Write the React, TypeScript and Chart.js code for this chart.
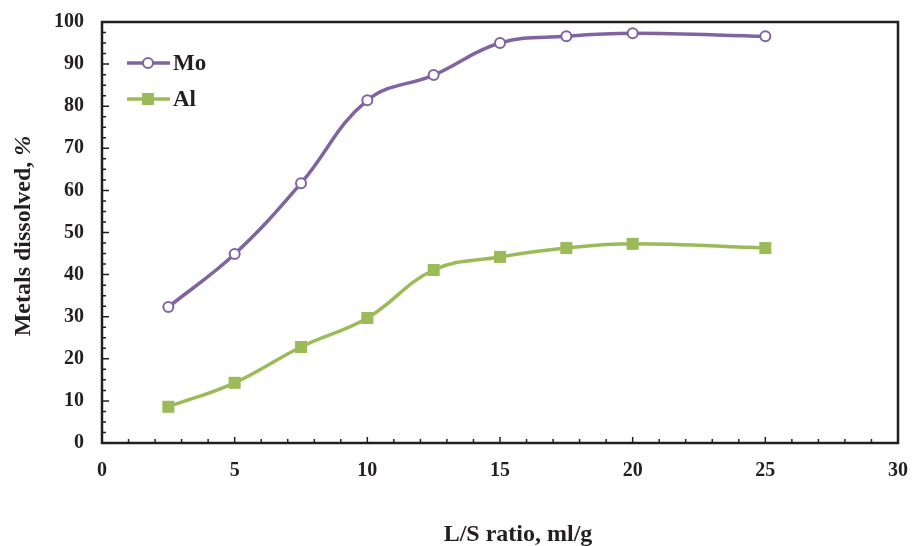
import React, { useEffect, useRef } from "react";
import { Chart, registerables } from "chart.js";

Chart.register(...registerables);

const lsRatio = [2.5, 5, 7.5, 10, 12.5, 15, 17.5, 20, 25];
const moValues = [32.3, 44.9, 61.7, 81.4, 87.4, 95.0, 96.6, 97.3, 96.6];
const alValues = [8.6, 14.3, 22.8, 29.7, 41.1, 44.2, 46.3, 47.3, 46.3];
const xTicks = [0, 5, 10, 15, 20, 25, 30];
const yTicks = [0, 10, 20, 30, 40, 50, 60, 70, 80, 90, 100];

const seriesNames = ["Mo", "Al"];
const MO_COLOR = "#8064A2";
const AL_COLOR = "#9BBB59";
const AXIS_COLOR = "#231F20";
const FONT = "'Liberation Serif', 'Times New Roman', serif";

const framePlugin = {
  id: "frameAndExtras",
  afterDraw(chart: any) {
    const { ctx, chartArea } = chart;
    const xs = chart.scales.x;
    const ys = chart.scales.y;
    ctx.save();
    // frame
    ctx.strokeStyle = AXIS_COLOR;
    ctx.lineWidth = 2.5;
    ctx.strokeRect(chartArea.left, chartArea.top, chartArea.right - chartArea.left, chartArea.bottom - chartArea.top);
    // ticks (inward)
    ctx.lineWidth = 1.5;
    ctx.beginPath();
    for (let v = 0; v <= 100; v += 2.5) {
      const y = ys.getPixelForValue(v);
      const major = Math.abs(v % 10) < 1e-6;
      ctx.moveTo(chartArea.left, y);
      ctx.lineTo(chartArea.left + (major ? 7 : 4), y);
    }
    for (let v = 0; v <= 30; v += 1) {
      const x = xs.getPixelForValue(v);
      const major = v % 5 === 0;
      ctx.moveTo(x, chartArea.bottom);
      ctx.lineTo(x, chartArea.bottom - (major ? 6 : 4));
    }
    ctx.stroke();

    // legend
    const items = [
      { name: seriesNames[0], color: MO_COLOR, y: 63, style: "circle" },
      { name: seriesNames[1], color: AL_COLOR, y: 99, style: "rect" },
    ];
    const lx0 = 127, lx1 = 170, lxm = 148;
    items.forEach((it) => {
      ctx.strokeStyle = it.color;
      ctx.lineWidth = 3.5;
      ctx.beginPath();
      ctx.moveTo(lx0, it.y);
      ctx.lineTo(lx1, it.y);
      ctx.stroke();
      if (it.style === "circle") {
        ctx.fillStyle = "#fff";
        ctx.lineWidth = 2;
        ctx.beginPath();
        ctx.arc(lxm, it.y, 5, 0, Math.PI * 2);
        ctx.fill();
        ctx.stroke();
      } else {
        ctx.fillStyle = it.color;
        ctx.fillRect(lxm - 6, it.y - 6, 12, 12);
      }
      ctx.fillStyle = AXIS_COLOR;
      ctx.font = `bold 23px ${FONT}`;
      ctx.textAlign = "left";
      ctx.textBaseline = "middle";
      ctx.fillText(it.name, 173, it.y + 1);
    });

    // axis titles
    ctx.fillStyle = AXIS_COLOR;
    ctx.textBaseline = "alphabetic";
    ctx.font = `bold 24px ${FONT}`;
    ctx.textAlign = "center";
    ctx.fillText("L/S ratio, ml/g", 518, 541);

    ctx.save();
    ctx.translate(30, 236);
    ctx.rotate(-Math.PI / 2);
    const part1 = "Metals dissolved, ";
    const part2 = "%";
    ctx.font = `bold 24px ${FONT}`;
    const w1 = ctx.measureText(part1).width;
    ctx.font = `italic bold 24px ${FONT}`;
    const w2 = ctx.measureText(part2).width;
    const start = -(w1 + w2) / 2;
    ctx.textAlign = "left";
    ctx.font = `bold 24px ${FONT}`;
    ctx.fillText(part1, start, 0);
    ctx.font = `italic bold 24px ${FONT}`;
    ctx.fillText(part2, start + w1, 0);
    ctx.restore();

    ctx.restore();
  },
};

const zeroPad = (scale: any) => {
  scale.paddingTop = 0;
  scale.paddingBottom = 0;
  scale.paddingLeft = 0;
  scale.paddingRight = 0;
};

export default function App() {
  const canvasRef = useRef<HTMLCanvasElement | null>(null);

  useEffect(() => {
    if (!canvasRef.current) return;
    const chart = new Chart(canvasRef.current, {
      type: "line",
      data: {
        datasets: [
          {
            label: seriesNames[0],
            data: lsRatio.map((x, i) => ({ x, y: moValues[i] })),
            borderColor: MO_COLOR,
            backgroundColor: "#ffffff",
            borderWidth: 3.5,
            tension: 0.4,
            pointStyle: "circle",
            pointRadius: 5,
            pointBorderWidth: 2,
            pointBorderColor: MO_COLOR,
            pointBackgroundColor: "#ffffff",
          },
          {
            label: seriesNames[1],
            data: lsRatio.map((x, i) => ({ x, y: alValues[i] })),
            borderColor: AL_COLOR,
            backgroundColor: AL_COLOR,
            borderWidth: 3.5,
            tension: 0.4,
            pointStyle: "rect",
            pointRadius: 8.5,
            pointBorderWidth: 0,
            pointBackgroundColor: AL_COLOR,
          },
        ],
      },
      options: {
        responsive: false,
        animation: false,
        layout: { padding: { top: 22, right: 14, left: 0, bottom: 0 } },
        plugins: { legend: { display: false }, tooltip: { enabled: false } },
        scales: {
          x: {
            type: "linear",
            min: 0,
            max: 30,
            afterBuildTicks: (scale: any) => {
              scale.ticks = xTicks.map((v) => ({ value: v }));
            },
            afterFit: (scale: any) => {
              scale.height = 103;
              zeroPad(scale);
            },
            ticks: {
              stepSize: 5,
              color: AXIS_COLOR,
              padding: 16,
              maxRotation: 0,
              font: { family: FONT, size: 20, weight: "bold" },
            },
            grid: { display: false, drawTicks: false },
            border: { display: false },
          },
          y: {
            type: "linear",
            min: 0,
            max: 100,
            afterBuildTicks: (scale: any) => {
              scale.ticks = yTicks.map((v) => ({ value: v }));
            },
            afterFit: (scale: any) => {
              scale.width = 102;
              zeroPad(scale);
            },
            ticks: {
              stepSize: 10,
              color: AXIS_COLOR,
              padding: 18,
              font: { family: FONT, size: 20, weight: "bold" },
            },
            grid: { display: false, drawTicks: false },
            border: { display: false },
          },
        },
      },
      plugins: [framePlugin],
    });
    return () => chart.destroy();
  }, []);

  return (
    <div style={{ position: "absolute", left: 0, top: 0, width: 912, height: 546, background: "#fff" }}>
      <canvas ref={canvasRef} width={912} height={546} style={{ display: "block" }} />
    </div>
  );
}
